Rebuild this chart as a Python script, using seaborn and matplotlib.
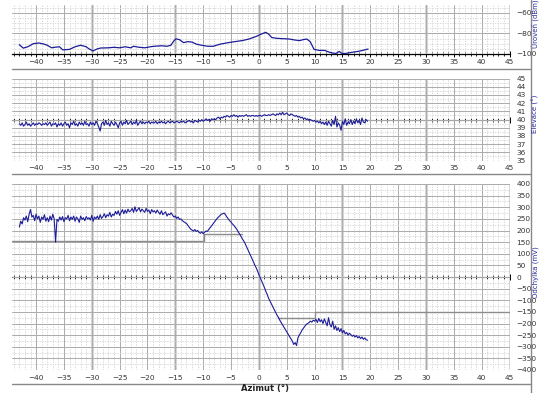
import numpy as np
import pandas as pd
import matplotlib
matplotlib.use("Agg")
import matplotlib.pyplot as plt
from matplotlib.ticker import MultipleLocator, NullFormatter
from matplotlib.lines import Line2D
import seaborn as sns

# ---------------- data ----------------
az_level = [-43.0, -42.3, -41.5, -40.5, -39.5, -38.5, -38.0, -37.2, -36.7, -35.8,
            -35.2, -34.0, -33.0, -32.0, -31.0, -30.5, -29.8, -29.0, -28.4, -27.0,
            -26.0, -25.0, -24.0, -23.0, -22.5, -21.5, -20.5, -19.5, -18.8, -17.5,
            -16.5, -15.8, -15.3, -14.9, -14.3, -13.5, -12.8, -12.0, -11.2, -10.3,
            -9.2, -8.2, -7.0, -5.5, -4.3, -3.0, -1.8, -0.5, 0.5, 1.2,
            1.7, 2.3, 3.2, 4.5, 5.5, 6.5, 7.3, 8.0, 8.6, 9.2,
            9.9, 10.8, 11.8, 12.5, 13.2, 13.8, 14.4, 14.9, 15.5, 16.5,
            17.8, 19.0, 19.6]
level = [-91, -94.3, -93, -90, -89.3, -90.5, -91.5, -94, -93.5, -93,
         -96, -95.5, -93, -91.5, -93, -95, -97, -95, -94.2, -94,
         -93.5, -94, -93, -94, -92.5, -93.5, -94, -93, -92.5, -92,
         -92.5, -91.5, -87.5, -85.3, -86, -89, -88, -88.5, -90.5, -91.5,
         -92.5, -92.5, -90.5, -89, -88, -87, -85.5, -83, -80.5, -79,
         -80.5, -84, -84.8, -85.2, -85.5, -86.5, -87, -86, -85.5, -88,
         -95.5, -96.5, -96.5, -98, -99, -99.5, -97.5, -99.5, -99.5, -98.5,
         -97.5, -96, -95.2]

az_start, az_step = -43.0, 0.25

elev = [39.5, 39.3, 39.6, 39.2, 39.4, 39.7, 39.3, 39.5, 39.2, 39.4,
        39.6, 39.3, 39.5, 39.4, 39.6, 39.5, 39.3, 39.5, 39.4, 39.6,
        39.3, 39.5, 39.7, 39.2, 39.5, 39.4, 39.6, 39.1, 39.5, 39.3,
        39.6, 39.2, 39.5, 39.7, 39.3, 39.5, 39.0, 39.6, 39.4, 39.8,
        39.3, 39.5, 39.2, 39.7, 39.4, 39.6, 39.3, 39.8, 39.4, 39.5,
        39.2, 39.7, 39.4, 39.6, 39.3, 39.8, 39.5, 39.1, 38.6, 39.5,
        39.7, 39.3, 39.9, 39.4, 39.6, 39.2, 39.8, 39.5, 39.3, 39.7,
        39.4, 39.0, 39.6, 39.8, 39.3, 39.7, 39.5, 39.9, 39.4, 39.6,
        39.8, 39.4, 39.7, 39.5, 39.9, 39.3, 39.6, 39.8, 39.5, 39.7,
        39.5, 39.7, 39.6, 39.8, 39.5, 39.7, 39.6, 39.6, 39.8, 39.5,
        39.7, 39.6, 39.8, 39.6, 39.7, 39.5, 39.7, 39.8, 39.6, 39.7,
        39.8, 39.6, 39.7, 39.8, 39.7, 39.6, 39.8, 39.7, 39.8, 39.6,
        39.7, 39.8, 39.9, 39.7, 39.8, 39.6, 39.9, 39.8, 39.7, 39.9,
        39.8, 40.0, 39.8, 39.9, 40.1, 39.9, 40.0, 39.8, 40.1, 40.0,
        40.1, 40.0, 40.2, 40.3, 40.1, 40.3, 40.2, 40.4, 40.3, 40.5,
        40.4, 40.3, 40.5, 40.4, 40.6, 40.4, 40.5, 40.3, 40.5, 40.4,
        40.5, 40.4, 40.5, 40.6, 40.4, 40.5, 40.4, 40.5, 40.5, 40.4,
        40.5, 40.4, 40.5, 40.5, 40.4, 40.5, 40.6, 40.5, 40.5, 40.6,
        40.5, 40.6, 40.7, 40.6, 40.5, 40.7, 40.6, 40.8, 40.6, 40.9,
        40.6, 40.7, 40.8, 40.6, 40.5, 40.7, 40.6, 40.5, 40.4, 40.5,
        40.3, 40.4, 40.2, 40.3, 40.1, 40.2, 40.0, 40.1, 39.9, 40.0,
        39.9, 39.8, 39.9, 39.7, 39.8, 39.6, 39.8, 39.5, 39.7, 39.4,
        39.7, 39.3, 39.8, 39.5, 39.2, 39.9, 39.4, 40.4, 39.1, 39.6,
        39.3, 38.7, 39.8, 39.4, 40.1, 39.3, 39.7, 39.5, 40.0, 39.4,
        39.8, 39.5, 40.1, 39.6, 39.9, 39.4, 40.2, 39.7, 39.6, 40.0,
        39.8]

error = [215, 240, 228, 255, 245, 262, 238, 270, 290, 258,
         265, 242, 270, 250, 262, 235, 258, 248, 268, 240,
         255, 238, 262, 245, 270, 250, 150, 248, 240, 258,
         245, 260, 238, 255, 250, 265, 242, 258, 248, 262,
         240, 258, 250, 235, 262, 248, 255, 242, 260, 250,
         255, 245, 265, 240, 258, 250, 262, 248, 268, 252,
         260, 272, 255, 268, 262, 278, 258, 270, 265, 282,
         270, 285, 265, 278, 290, 272, 288, 275, 292, 280,
         285, 295, 278, 302, 282, 290, 298, 280, 292, 285,
         278, 295, 282, 288, 272, 290, 280, 285, 275, 288,
         278, 270, 285, 268, 275, 280, 262, 272, 268, 276,
         266, 258, 262, 252, 258, 248, 250, 242, 238, 234,
         230, 222, 214, 206, 202, 198, 204, 196, 200, 192,
         188, 194, 186, 192, 198, 196, 205, 212, 220, 228,
         236, 244, 252, 258, 264, 270, 272, 275, 268, 258,
         250, 242, 236, 228, 222, 214, 206, 196, 186, 176,
         165, 156, 145, 132, 118, 106, 92, 80, 66, 52,
         40, 26, 10, -4, -18, -32, -46, -62, -76, -92,
         -104, -116, -128, -140, -152, -164, -174, -186, -196, -206,
         -216, -226, -236, -246, -256, -266, -276, -290, -282, -295,
         -262, -250, -240, -228, -220, -212, -204, -200, -196, -190,
         -194, -186, -190, -182, -196, -178, -192, -184, -200, -180,
         -196, -210, -175, -205, -215, -190, -225, -210, -230, -218,
         -235, -222, -240, -230, -245, -238, -250, -242, -248, -255,
         -250, -258, -252, -262, -256, -265, -258, -268, -262, -270,
         -272]

thr_upper_x = [-44.25, -9.9, -9.9, -3.1]
thr_upper_y = [153, 153, 186, 186]
thr_lower_x = [3.5, 10.0, 10.0, 45.0]
thr_lower_y = [-178, -178, -150, -150]

xticks = list(range(-40, 50, 5))
ylabels = ["Úroveň (dBm)", "Elevace (°)", "Odchylka (mV)"]
xlabel = "Azimut (°)"

# ---------------- style ----------------
sns.set_style("white")
plt.rcParams["font.family"] = ["DejaVu Sans"]
LINE = "#1c1c98"
TXT = "#333333"

fig = plt.figure(figsize=(5.40, 3.93), dpi=100)
H = 393.0
W = 540.0
left = 12.4 / W
width = (509.6 - 12.4) / W
XL = (-44.25, 45)


def make_ax(top_px, bot_px):
    return fig.add_axes([left, 1 - bot_px / H, width, (bot_px - top_px) / H])


ax1 = make_ax(4.5, 54.0)
ax2 = make_ax(78.6, 160.6)
ax3 = make_ax(184.0, 370.0)

az_grid = az_start + az_step * np.arange(len(elev))
df_level = pd.DataFrame({"az": az_level, "v": level})
df_elev = pd.DataFrame({"az": az_grid, "v": elev})
df_err = pd.DataFrame({"az": az_grid, "v": error})


def style(ax, ylim, ymaj, ymin):
    ax.set_xlim(*XL)
    ax.set_ylim(*ylim)
    for s in ax.spines.values():
        s.set_visible(False)
    ax.xaxis.set_major_locator(MultipleLocator(5))
    ax.xaxis.set_minor_locator(MultipleLocator(1))
    ax.yaxis.set_major_locator(MultipleLocator(ymaj))
    ax.yaxis.set_minor_locator(MultipleLocator(ymin))
    ax.set_xticks(xticks)
    ax.grid(which="major", color="#ababab", lw=0.7, ls="-")
    ax.grid(which="minor", color="#d2d2d2", lw=0.6, ls=(0, (1.5, 1.5)))
    for xv in range(-30, 46, 15):
        ax.axvline(xv, color="#d6d6d6", lw=2.2, zorder=0.5)
    ax.yaxis.tick_right()
    ax.tick_params(axis="y", which="both", length=0, pad=5, labelsize=5.3,
                   labelcolor=TXT)
    ax.tick_params(axis="x", which="both", length=0, pad=3.5, labelsize=5.3,
                   labelcolor=TXT)
    ax.set_xlabel("")
    ax.set_ylabel("")
    ax.set_axisbelow(True)


def zero_axis(ax, loc):
    sec = ax.secondary_xaxis(loc)
    sec.xaxis.set_major_locator(MultipleLocator(5))
    sec.xaxis.set_minor_locator(MultipleLocator(1))
    sec.xaxis.set_major_formatter(NullFormatter())
    sec.spines["bottom"].set_color("black")
    sec.spines["bottom"].set_linewidth(0.9)
    sec.tick_params(which="major", direction="inout", length=4, width=0.7,
                    color="black")
    sec.tick_params(which="minor", direction="inout", length=2.5, width=0.6,
                    color="black")
    return sec


# panel 1
sns.lineplot(data=df_level, x="az", y="v", ax=ax1, color=LINE, lw=0.9,
             estimator=None, sort=False)
style(ax1, (-100, -52), 20, 5)
ax1.set_yticks([-60, -80, -100])
zero_axis(ax1, 0.0)

# panel 2
sns.lineplot(data=df_elev, x="az", y="v", ax=ax2, color=LINE, lw=0.8,
             estimator=None, sort=False)
style(ax2, (35, 45), 1, 0.5)
zero_axis(ax2, 0.5)

# panel 3
ax3.plot(thr_upper_x, thr_upper_y, color="#8c8c8c", lw=1.0, zorder=2)
ax3.plot(thr_lower_x, thr_lower_y, color="#8c8c8c", lw=1.0, zorder=2)
sns.lineplot(data=df_err, x="az", y="v", ax=ax3, color=LINE, lw=0.8,
             estimator=None, sort=False, zorder=3)
style(ax3, (-400, 400), 50, 25)
zero_axis(ax3, 0.5)

# frame lines
for ypx in (69.0, 174.0, 383.5):
    fig.add_artist(Line2D([12 / W, 531 / W], [1 - ypx / H, 1 - ypx / H],
                          color="#888888", lw=1.0, transform=fig.transFigure))
fig.add_artist(Line2D([531 / W, 531 / W], [0, 1], color="#888888", lw=1.0,
                      transform=fig.transFigure))

# side labels
for lab, ypx in zip(ylabels, (24, 114, 272)):
    fig.text(535.5 / W, 1 - ypx / H, lab, rotation=90, color="#2a2aa0",
             fontsize=5, ha="center", va="center")

fig.text(265 / W, 1 - 388.5 / H, xlabel, fontsize=6, fontweight="bold",
         color="#222222", ha="center", va="center")

fig.savefig("out.png", dpi=100)
